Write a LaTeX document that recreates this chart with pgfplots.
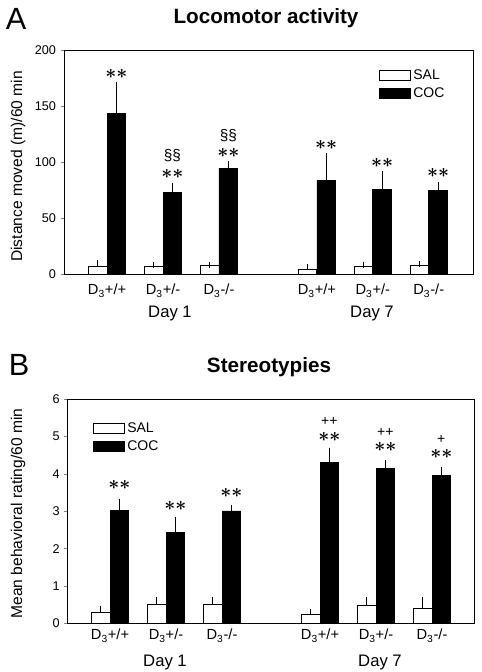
\documentclass[border=0pt]{standalone}
\usepackage{fontspec}
\setmainfont{Liberation Sans}
\usepackage{pgfplots}
\usepackage{pgfplotstable}
\pgfplotsset{compat=1.18}

\pgfplotstableread{
x y e
0 7.1 2.7
1 6.8 1.2
2 7.4 0.9
3.75 4.5 1.5
4.75 6.8 1.5
5.75 7.4 1.5
}\ASAL
\pgfplotstableread{
x y e
0 143.5 25.3
1 73.1 5.9
2 94.5 3.9
3.75 83.5 22.0
4.75 75.2 14.2
5.75 74.6 5.0
}\ACOC
\pgfplotstableread{
x y e
0 0.30 0.075
1 0.50 0.13
2 0.50 0.14
3.75 0.25 0.05
4.75 0.48 0.15
5.75 0.41 0.22
}\BSAL
\pgfplotstableread{
x y e
0 3.02 0.24
1 2.43 0.34
2 3.01 0.09
3.75 4.31 0.32
4.75 4.15 0.14
5.75 3.96 0.16
}\BCOC

\tikzset{
  star/.style={font=\boldmath\fontsize{14}{16}\selectfont, inner sep=0pt},
  sym/.style={font=\fontsize{10.5}{12}\selectfont, inner sep=0pt},
  sec/.style={font=\fontsize{11.5}{13}\selectfont, inner sep=0pt},
}
\pgfplotsset{
  myax/.style={
    scale only axis,
    axis line style={line width=0.6pt},
    xmin=-0.77, xmax=6.54,
    xtick={0,1,2,3.75,4.75,5.75},
    xticklabels={D\textsubscript{3}+/+,D\textsubscript{3}+/-,D\textsubscript{3}-/-,D\textsubscript{3}+/+,D\textsubscript{3}+/-,D\textsubscript{3}-/-},
    xtick style={draw=none},
    ytick pos=left,
    ytick align=outside,
    major tick length=2.5pt,
    ytick style={line width=0.6pt},
    /pgf/number format/assume math mode=true,
    yticklabel style={font=\fontsize{9.5}{11}\selectfont},
    xticklabel style={font=\fontsize{11}{13}\selectfont, anchor=base},
    ylabel style={font=\fontsize{11.7}{14}\selectfont, anchor=center, rotate=0},
    legend image code/.code={\draw[#1] (0pt,-3.75pt) rectangle (23pt,3.75pt);},
    legend style={draw=none, fill=none, anchor=north west, inner sep=0pt,
      font=\fontsize{10.5}{12}\selectfont, row sep=0.5pt,
      /tikz/every even column/.append style={column sep=5pt}},
    legend cell align=left,
    clip=false,
  },
  salbar/.style={ybar, bar width=0.333, bar shift=0pt, fill=white, draw=black, line width=0.6pt,
    error bars/.cd, y dir=plus, y explicit, error bar style={line width=0.6pt, black},
    error mark options={line width=0.6pt, mark size=2.2pt, black}},
  cocbar/.style={ybar, bar width=0.333, bar shift=0pt, fill=black, draw=black, line width=0.6pt,
    error bars/.cd, y dir=plus, y explicit, error bar style={line width=0.6pt, black},
    error mark options={line width=0.6pt, mark size=2.2pt, black}},
}

\begin{document}
\begin{tikzpicture}
\path[use as bounding box] (0pt,0pt) rectangle (361.5pt,504pt);

% Panel A
\node[anchor=base, font=\fontsize{23}{26}\selectfont] at (12pt,481.5pt) {A};
\node[anchor=base, font=\bfseries\fontsize{15.5}{18}\selectfont] at (199.5pt,486pt) {Locomotor activity};
\begin{axis}[myax,
  at={(48pt,298.5pt)}, anchor=south west,
  width=306.75pt, height=168pt,
  ymin=0, ymax=200, ytick={0,50,100,150,200},
  ylabel={Distance moved (m)/60 min},
  ylabel style={at={(axis description cs:-0.1125,0.48)}},
  xticklabel style={yshift=-15.75pt},
  legend style={at={(0.770,0.925)}},
]
\addplot[salbar] table[x expr=\thisrow{x}-0.1667,y=y,y error=e] {\ASAL};
\addplot[cocbar] table[x expr=\thisrow{x}+0.1667,y=y,y error=e] {\ACOC};
\legend{SAL,COC}
\node[star] at (axis cs:0.1667,178.6) {$\ast\ast$};
\node[star] at (axis cs:1.1667,89.5) {$\ast\ast$};
\node[sec] at (axis cs:1.1667,106) {§§};
\node[star] at (axis cs:2.1667,108) {$\ast\ast$};
\node[sec] at (axis cs:2.1667,123.5) {§§};
\node[star] at (axis cs:3.9167,115) {$\ast\ast$};
\node[star] at (axis cs:4.9167,99) {$\ast\ast$};
\node[star] at (axis cs:5.9167,90) {$\ast\ast$};
\end{axis}
\node[anchor=base, font=\fontsize{12.5}{15}\selectfont] at (127.5pt,265.5pt) {Day 1};
\node[anchor=base, font=\fontsize{12.5}{15}\selectfont] at (279pt,265.5pt) {Day 7};

% Panel B
\node[anchor=base, font=\fontsize{23}{26}\selectfont] at (14.3pt,222.2pt) {B};
\node[anchor=base, font=\bfseries\fontsize{15.5}{18}\selectfont] at (201.75pt,224.5pt) {Stereotypies};
\begin{axis}[myax,
  at={(50.8pt,36.5pt)}, anchor=south west,
  width=304.7pt, height=168pt,
  xmin=-0.755, xmax=6.5,
  ymin=0, ymax=6, ytick={0,1,2,3,4,5,6},
  ylabel={Mean behavioral rating/60 min},
  ylabel style={at={(axis description cs:-0.122,0.49)}},
  xticklabel style={yshift=-12.5pt},
  legend style={at={(0.062,0.908)}},
]
\addplot[salbar] table[x expr=\thisrow{x}-0.1667,y=y,y error=e] {\BSAL};
\addplot[cocbar] table[x expr=\thisrow{x}+0.1667,y=y,y error=e] {\BCOC};
\legend{SAL,COC}
\node[star] at (axis cs:0.1667,3.70) {$\ast\ast$};
\node[star] at (axis cs:1.1667,3.15) {$\ast\ast$};
\node[star] at (axis cs:2.1667,3.50) {$\ast\ast$};
\node[star] at (axis cs:3.9167,4.98) {$\ast\ast$};
\node[sym] at (axis cs:3.9167,5.40) {++};
\node[star] at (axis cs:4.9167,4.73) {$\ast\ast$};
\node[sym] at (axis cs:4.9167,5.12) {++};
\node[star] at (axis cs:5.9167,4.54) {$\ast\ast$};
\node[sym] at (axis cs:5.9167,4.92) {+};
\end{axis}
\node[anchor=base, font=\fontsize{12.5}{15}\selectfont] at (123.75pt,4.5pt) {Day 1};
\node[anchor=base, font=\fontsize{12.5}{15}\selectfont] at (285pt,4.5pt) {Day 7};
\end{tikzpicture}
\end{document}
